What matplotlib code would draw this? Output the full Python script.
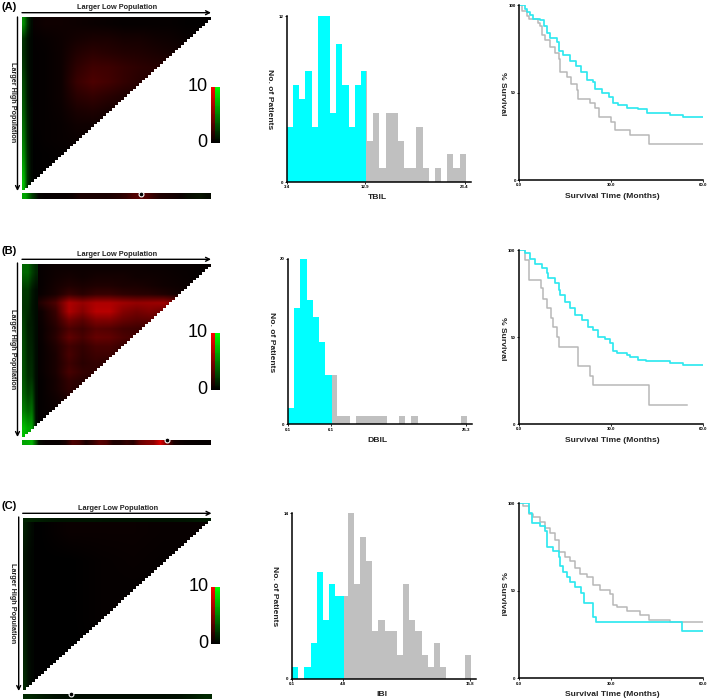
import numpy as np
import matplotlib
matplotlib.use('Agg')
import matplotlib.pyplot as plt
from matplotlib.patches import Polygon

plt.rcParams['font.family'] = ['Liberation Sans', 'DejaVu Sans']

W, H = 709, 700
CYAN = '#00ffff'
GREY = '#c0c0c0'
KM_CYAN = '#30e8f0'
KM_GREY = '#b8b8b8'

# ----------------------------------------------------------------------
# histograms : counts per bin
# ----------------------------------------------------------------------
tbil_counts = [4, 7, 6, 8, 4, 12, 12, 5, 10, 7, 4, 7, 8, 3, 5, 1, 5, 5, 3, 1, 1, 4, 1, 0, 1, 0, 2, 1, 2]
dbil_counts = [2, 14, 20, 15, 13, 10, 6, 6, 1, 1, 0, 1, 1, 1, 1, 1, 0, 0, 1, 0, 1, 0, 0, 0, 0, 0, 0, 0, 1]
ibil_counts = [1, 0, 1, 3, 9, 5, 8, 7, 7, 14, 8, 12, 10, 4, 5, 4, 4, 2, 8, 5, 4, 2, 1, 3, 1, 0, 0, 0, 2]
tbil_labels = ['3.4', '12.9', '23.4']
dbil_labels = ['0.1', '6.1', '25.3']
ibil_labels = ['0.1', '4.8', '15.8']

# ----------------------------------------------------------------------
# survival curves : time (months), % survival
# ----------------------------------------------------------------------
a_cyan_t = [0, 2, 2.5, 3.5, 4.6, 6.7, 8.2, 9.1, 10, 12.2, 13, 14.4, 16.5, 18.5, 20, 22, 24, 24.7, 27, 29.3, 30.4, 32.3, 35.2, 38.8, 41.5, 49, 53.3, 60]
a_cyan_s = [100, 98, 96, 94.5, 92, 91.5, 88, 84, 81, 79, 74, 71.5, 68, 65, 62, 57, 56, 52, 50, 47.5, 44, 43, 41, 40.5, 38.5, 37, 36, 36]
a_grey_t = [0, 1, 2.5, 3, 6.2, 6.7, 7.5, 8.4, 10, 11.6, 13, 13.3, 15.4, 17, 18.7, 19.3, 23, 24.7, 26, 30, 31.2, 36, 42.3, 60]
a_grey_s = [100, 97, 94, 92, 90, 88, 83, 80, 76, 72.5, 69, 62, 59, 55, 51.5, 46.5, 44, 41, 36, 33.4, 28.6, 25.8, 20.6, 20.6]

b_cyan_t = [0, 2, 3.7, 5.3, 7.5, 9.1, 9.7, 11.8, 13, 13.5, 15, 16.7, 18.4, 20.5, 22.7, 24.3, 25.7, 28.2, 29.8, 30.6, 32, 35.2, 36.3, 39, 41.4, 49.4, 53.5, 60]
b_cyan_s = [100, 98, 95, 92, 89.5, 87, 83.7, 81, 77, 74, 70, 66.5, 62.6, 60, 56, 54, 50, 48.7, 46.7, 42, 41, 39.7, 38.3, 37, 36.4, 35.2, 34, 34]
b_grey_t = [0, 2, 3.3, 7.3, 8, 9.3, 10.4, 11.3, 12.4, 13.3, 19.2, 23.3, 24.3, 42.4, 55]
b_grey_s = [100, 94, 83, 78, 72, 66.5, 61, 55.5, 50, 44.4, 33.3, 27.6, 22.2, 11.1, 11.1]

c_cyan_t = [0, 3.5, 4.2, 7, 8.6, 9.3, 11.3, 13, 13.5, 14.6, 15.9, 16.7, 18.4, 20.2, 21.3, 24.3, 25.2, 53.4, 60]
c_cyan_s = [100, 94.3, 89, 87, 84, 75, 73, 69.5, 64, 61, 57.7, 55, 52.4, 49, 43.2, 35.2, 32, 27.2, 27.2]
c_grey_t = [0, 1.5, 3.5, 4.8, 7, 8.6, 10.2, 11.8, 13, 15, 16.7, 18.4, 20, 22.2, 24.3, 26.5, 29.8, 30.6, 32, 35.2, 39.6, 42.5, 49.3, 60]
c_grey_s = [100, 98.5, 94, 92.4, 89.5, 85.7, 83, 79, 72, 69.5, 67, 63, 59.6, 57.7, 53.3, 50.5, 48, 42, 41, 38.7, 36, 33.3, 32.4, 32.4]

# ----------------------------------------------------------------------
# heatmaps : red level per coarse cell, top row first (only inside the triangle)
# ----------------------------------------------------------------------
a_red = [
    [.03, .06, .06, .05, .04, .03, .02, .02, .02, .02, .01, .01],
    [.01, .03, .05, .08, .10, .10, .08, .08, .06, .05, .03],
    [.01, .02, .05, .13, .17, .15, .13, .12, .10, .08],
    [.01, .02, .05, .18, .25, .24, .20, .17, .15],
    [.01, .02, .05, .22, .30, .26, .20, .15],
    [.01, .02, .05, .16, .20, .16, .12],
    [.01, .02, .04, .10, .12, .09],
    [.01, .02, .03, .06, .06],
    [0, .02, .03, .04],
    [0, .01, .02],
    [0, .01],
    [0],
]
b_red = [
    [0, .03, .05, .05, .05, .05, .05, .05, .05, .04, .04, .03, .03, .02],
    [0, .03, .06, .08, .06, .08, .08, .08, .06, .06, .05, .04, .03, .02],
    [0, .03, .08, .12, .10, .12, .12, .10, .10, .08, .06, .05, .04],
    [0, .04, .10, .22, .16, .22, .22, .18, .16, .15, .12, .08, .04],
    [0, .15, .30, .68, .58, .68, .68, .62, .58, .60, .62, .50, .10],
    [0, .06, .22, .68, .52, .72, .72, .52, .45, .50, .42, .30],
    [0, .05, .18, .45, .35, .50, .50, .40, .35, .36, .28],
    [0, .04, .14, .30, .24, .34, .32, .26, .24, .22, .14],
    [0, .04, .16, .38, .28, .40, .38, .30, .26, .18],
    [0, .03, .12, .26, .20, .28, .28, .22, .16, .10],
    [0, .03, .10, .28, .18, .24, .24, .16, .10],
    [0, .03, .10, .24, .16, .20, .15, .10],
    [0, .03, .10, .28, .20, .18, .12],
    [0, .02, .08, .20, .15, .12],
    [0, .02, .08, .18, .12],
    [0, .02, .06, .12, .08],
    [0, .02, .05, .08],
    [0, .02, .03],
    [0, .01],
    [0],
]
c_red = [
    [0, .04, .04, .04, .03, .03],
    [0, 0, .02, .03, .02, .02],
    [0, 0, .02, .02, .02],
    [0, 0, .02, .04],
    [0, 0, .01],
    [0],
]

# green level in the left hand columns, top row first
a_green = [
    [.55, .22, .04], [.20, .08, .02], [.18, .08, .02], [.22, .08, .02], [.28, .10, .02], [.32, .10, .02],
    [.36, .12, .03], [.42, .14, .03], [.48, .15, .03], [.55, .18, .03], [.65, .20, .03], [.75, .20, .03],
]
b_green = [
    [.40, .40, .25, .15], [.22, .22, .10, .04], [.20, .18, .08, .04], [.25, .12, .10, .04], [.28, .14, .12, .04],
    [.30, .15, .15, .04], [.32, .18, .18, .04], [.38, .26, .30, .04], [.50, .40, .45, .04], [.75, .65, .65, .04],
]
c_green = [
    [.12, .07, .03], [.08, .04, .02], [.08, .04, .02], [.10, .04, .02], [.12, .05, .02], [.14, .05, .02], [.16, .06, .02],
]
c_top_green = [.14, .10, .08, .08, .08, .07, .07, .07, .07, .07, .08, .10]

# bottom strips
a_strip_red = [0, 0, .02, .02, .03, .03, .03, .05, .10, .10, .10, .10, .10, .12, .15, .20, .30, .35, .30, .20, .12, .10, .08, .05, .03, .03, .03, .02]
a_strip_green = [.65, .25, .02, 0, 0, 0, 0, 0, 0, 0, 0, 0, 0, 0, 0, 0, 0, 0, 0, 0, 0, 0, 0, 0, .04, .06, .08, .04]
b_strip_red = [0, 0, .02, .03, .03, .03, .10, .30, .25, .10, .20, .35, .30, .12, .12, .20, .15, .40, .50, .55, .85, .45, .10, .05, .03, .03, .02, .02]
b_strip_green = [.65, .70, .05, 0, 0, 0, 0, 0, 0, 0, 0, 0, 0, 0, 0, 0, 0, 0, 0, 0, 0, 0, 0, 0, 0, 0, 0, 0]
c_strip_red = [0, 0, 0, 0, 0, 0, 0, 0, 0, 0, 0, 0, 0, 0]
c_strip_green = [.16, .10, .06, .05, .05, .05, .05, .05, .05, .05, .05, .06, .10, .16]


def pad(rows):
    n = max(len(r) for r in rows)
    return np.array([list(r) + [r[-1]] * (n - len(r)) for r in rows], dtype=float)


def rgb(red, green):
    red = np.asarray(red, dtype=float)
    green = np.asarray(green, dtype=float)
    return np.dstack([red, green, np.zeros_like(red)])


def add_ax(x0, y0, x1, y1):
    # pixel box, y from the top
    return fig.add_axes([x0 / W, 1 - y1 / H, (x1 - x0) / W, (y1 - y0) / H])


def heatmap(box, red, green, strip_box, strip_red, strip_green, mark_x, top_green=None, green_width=0.055):
    ax = add_ax(*box)
    ax.set_xlim(0, 1)
    ax.set_ylim(1, 0)
    ax.axis('off')

    steps = 63
    stairs = [(0, 0), (1, 0)]
    for k in range(steps - 1, -1, -1):
        stairs.append(((k + 1) / steps, (steps - k) / steps))
        stairs.append((k / steps, (steps - k) / steps))
    clip = Polygon(stairs, transform=ax.transData, facecolor='black', edgecolor='none')
    ax.add_patch(clip)

    r = pad(red)
    ims = [ax.imshow(rgb(r, r * 0), extent=(0, 1, 1, 0), aspect='auto', interpolation='bilinear', zorder=2)]
    g = np.array(green)
    ims.append(ax.imshow(rgb(g * 0, g), extent=(0, green_width, 1, 0), aspect='auto', interpolation='bilinear', zorder=3))
    if top_green is not None:
        t = np.array([top_green])
        ims.append(ax.imshow(rgb(t * 0, t), extent=(0, 1, 0.02, 0), aspect='auto', interpolation='bilinear', zorder=3))
    for im in ims:
        im.set_clip_path(clip)
    ax.set_xlim(0, 1)
    ax.set_ylim(1, 0)

    sx = add_ax(*strip_box)
    sx.imshow(rgb([strip_red], [strip_green]), aspect='auto', interpolation='bilinear')
    sx.axis('off')
    over.plot([mark_x], [strip_box[1] + 0.4], marker='o', ms=3.5, mfc='black', mec='white', mew=0.8, ls='none', zorder=10)


def colorbar(x0, y0, x1, y1):
    ramp = np.linspace(1, 0, 64)[:, None]
    ax = add_ax(x0, y0, x1, y1)
    ax.imshow(np.dstack([np.hstack([ramp, ramp * 0]), np.hstack([ramp * 0, ramp]), np.zeros((64, 2))]),
              aspect='auto', interpolation='nearest')
    ax.axis('off')
    over.text(x0 - 3, y0 - 0.5, '10', ha='right', va='center', fontsize=13)
    over.text(x0 - 3, y1 - 1, '0', ha='right', va='center', fontsize=13)


def clean(ax):
    ax.spines['top'].set_visible(False)
    ax.spines['right'].set_visible(False)
    ax.spines['left'].set_linewidth(1.1)
    ax.spines['bottom'].set_linewidth(1.1)
    ax.patch.set_alpha(0)
    ax.tick_params(length=1.5, width=0.6, pad=1, labelsize=3.2)
    for lab in ax.get_xticklabels() + ax.get_yticklabels():
        lab.set_fontweight('bold')


def histogram(box, counts, cut, ticks, labels, top):
    ax = add_ax(*box)
    lefts, widths, heights, colors = [], [], [], []
    for i, c in enumerate(counts):
        if i + 1 <= cut:
            parts = [(i, 1, CYAN)]
        elif i >= cut:
            parts = [(i, 1, GREY)]
        else:
            parts = [(i, cut - i, CYAN), (cut, i + 1 - cut, GREY)]
        for left, width, color in parts:
            lefts.append(left)
            widths.append(width)
            heights.append(c)
            colors.append(color)
    ax.bar(lefts, heights, width=widths, align='edge', color=colors, linewidth=0, antialiased=False)
    ax.set_xlim(0, 29.8)
    ax.set_ylim(0, top)
    ax.set_xticks(ticks)
    ax.set_xticklabels(labels)
    ax.set_yticks([0, top])
    ax.set_yticklabels(['0', str(top)])
    clean(ax)


def survival(box, cyan_t, cyan_s, grey_t, grey_s):
    ax = add_ax(*box)
    ax.step(grey_t, grey_s, where='post', color=KM_GREY, lw=1.1)
    ax.step(cyan_t, cyan_s, where='post', color=KM_CYAN, lw=1.25)
    ax.set_xlim(0, 60)
    ax.set_ylim(0, 100)
    ax.set_xticks([0, 30, 60])
    ax.set_xticklabels(['0.0', '30.0', '60.0'])
    ax.set_yticks([0, 50, 100])
    ax.set_yticklabels(['0', '50', '100'])
    clean(ax)


def arrows(label, label_y, top_y, text_y, arrow_x, y0, y1, x0, x1, side_x, side_y):
    over.text(1, label_y, label, fontsize=8, fontweight='bold', ha='left', va='center')
    over.text((x0 + x1) / 2 + 0.5, text_y, 'Larger Low Population', fontsize=5.3, fontweight='bold',
              ha='center', va='center', color='#222222')
    over.text(side_x, side_y, 'Larger High Population', fontsize=5.2, fontweight='bold', rotation=270,
              ha='center', va='center', color='#222222')
    style = dict(arrowstyle='->', lw=1.0, color='black', shrinkA=0, shrinkB=0, mutation_scale=7)
    over.annotate('', xy=(x1, top_y), xytext=(x0, top_y), arrowprops=style)
    over.annotate('', xy=(arrow_x, y1), xytext=(arrow_x, y0), arrowprops=style)


def labels(x, y, text, rot=0):
    over.text(x, y, text, fontsize=6.1, fontweight='bold', rotation=rot, ha='center', va='center', color='#222222')


fig = plt.figure(figsize=(W / 100, H / 100), dpi=100, facecolor='white')
over = fig.add_axes([0, 0, 1, 1], zorder=20)
over.set_xlim(0, W)
over.set_ylim(H, 0)
over.axis('off')

# row A
arrows('(A)', 7, 12.7, 7.5, 17.5, 17, 191, 22, 211, 12, 102)
heatmap((22, 17.3, 211, 190.3), a_red, a_green, (22, 193.3, 211, 198.7), a_strip_red, a_strip_green, 140.7)
colorbar(210.7, 86.7, 219.3, 143.3)
histogram((287, 16, 470.7, 182), tbil_counts, 12.77, [0, 12.6, 28.8], tbil_labels, 12)
labels(270, 98.7, 'No. of Patients', 270)
labels(377.3, 197.3, 'TBIL')
survival((519.3, 5.3, 703.3, 180), a_cyan_t, a_cyan_s, a_grey_t, a_grey_s)
labels(502.7, 94, '% Survival', 270)
labels(612.7, 196, 'Survival Time (Months)')

# row B
arrows('(B)', 251, 259.3, 254.3, 17.5, 263, 437, 22, 211, 12, 349)
heatmap((22, 264, 211, 437), b_red, b_green, (22, 440, 211, 445.3), b_strip_red, b_strip_green, 166.7, green_width=0.08)
colorbar(210.7, 333.3, 219.3, 390)
histogram((288, 258.7, 472, 424.3), dbil_counts, 7.14, [0, 6.93, 28.9], dbil_labels, 20)
labels(271, 341.7, 'No. of Patients', 270)
labels(377.3, 440.7, 'DBIL')
survival((518.7, 250, 702.7, 424), b_cyan_t, b_cyan_s, b_grey_t, b_grey_s)
labels(502.7, 338.3, '% Survival', 270)
labels(612.3, 441, 'Survival Time (Months)')

# row C
arrows('(C)', 506, 513.3, 508, 18.7, 517, 691, 22.7, 211.5, 12.7, 603)
heatmap((22.7, 518.3, 211.3, 690), c_red, c_green, (22.7, 693.7, 211.3, 699), c_strip_red, c_strip_green, 71.3,
        top_green=c_top_green)
colorbar(211.3, 587.3, 220, 644)
histogram((292, 513.3, 476, 678.7), ibil_counts, 8.5, [0, 8.2, 28.9], ibil_labels, 14)
labels(274.7, 596, 'No. of Patients', 270)
labels(381.7, 695, 'IBI')
survival((518.7, 503.3, 702.7, 678.3), c_cyan_t, c_cyan_s, c_grey_t, c_grey_s)
labels(502.7, 593.3, '% Survival', 270)
labels(612.3, 694, 'Survival Time (Months)')

fig.savefig('out.png', dpi=100)
